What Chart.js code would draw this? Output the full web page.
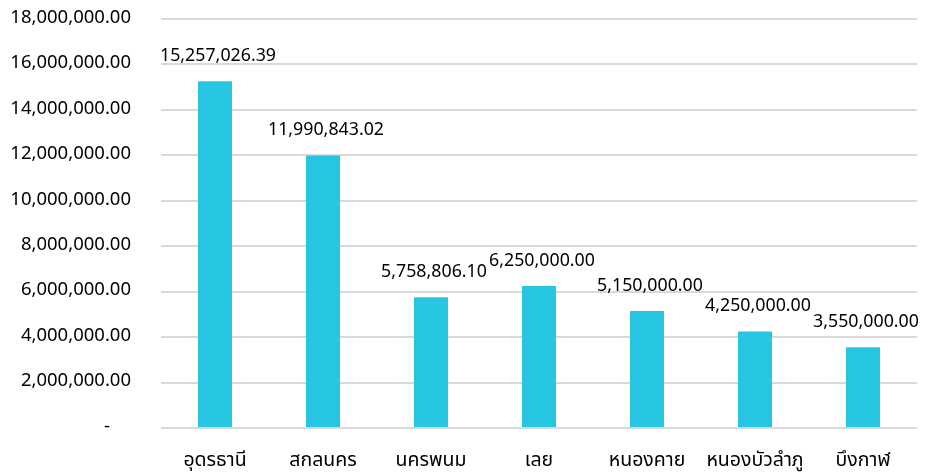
<!DOCTYPE html>
<html>
<head>
<meta charset="utf-8">
<script src="https://cdn.jsdelivr.net/npm/chart.js@4"></script>
<style>
  html, body { margin: 0; padding: 0; background: #fff; }
  #wrap { width: 925px; height: 473px; }
</style>
</head>
<body>
<div id="wrap"><canvas id="c" width="925" height="473"></canvas></div>
<script>
const provinces = ['อุดรธานี', 'สกลนคร', 'นครพนม', 'เลย', 'หนองคาย', 'หนองบัวลำภู', 'บึงกาฬ'];
const budget = [15257026.39, 11990843.02, 5758806.10, 6250000.00, 5150000.00, 4250000.00, 3550000.00];
const yTicks = [0, 2000000, 4000000, 6000000, 8000000, 10000000, 12000000, 14000000, 16000000, 18000000];

const FONT = "Tahoma, 'Noto Sans Thai', 'Noto Sans', sans-serif";
// accounting style: zero shown as a dash, padded like the decimals
const fmt = v => v === 0 ? '-\u2007\u2007' : v.toLocaleString('en-US', { minimumFractionDigits: 2, maximumFractionDigits: 2 });

/* === value labels above bars === */
const valueLabels = {
  id: 'valueLabels',
  afterDatasetsDraw(chart) {
    const ctx = chart.ctx;
    const meta = chart.getDatasetMeta(0);
    ctx.save();
    ctx.font = '17.8px ' + FONT;
    ctx.fillStyle = '#000';
    ctx.textAlign = 'center';
    ctx.textBaseline = 'middle';
    meta.data.forEach((bar, i) => {
      ctx.fillText(fmt(budget[i]), bar.x + 3, bar.y - 24);
    });
    ctx.restore();
  }
};

new Chart(document.getElementById('c'), {
  type: 'bar',
  data: {
    labels: provinces,
    datasets: [{
      data: budget,
      backgroundColor: '#26C6E2',
      borderWidth: 0,
      barPercentage: 0.63,
      categoryPercentage: 0.5
    }]
  },
  options: {
    responsive: false,
    animation: false,
    layout: { padding: { top: 19, right: 8, bottom: 0, left: 0 } },
    plugins: { legend: { display: false }, tooltip: { enabled: false } },
    scales: {
      x: {
        afterFit(s) { s.height = 45; },
        grid: { display: false },
        border: { display: false },
        ticks: { color: '#000', font: { size: 19.5, family: FONT }, padding: 14, maxRotation: 0, autoSkip: false }
      },
      y: {
        min: 0,
        max: 18000000,
        afterFit(s) { s.width = 161; s.paddingTop = 0; s.paddingBottom = 0; },
        afterBuildTicks(s) { s.ticks = yTicks.map(v => ({ value: v })); },
        grid: { color: '#d9d9d9', lineWidth: 2, drawTicks: false },
        border: { display: false },
        ticks: {
          color: '#000',
          padding: 30,
          font: { size: 18.5, family: FONT },
          callback: v => fmt(v)
        }
      }
    }
  },
  plugins: [valueLabels]
});
</script>
</body>
</html>
